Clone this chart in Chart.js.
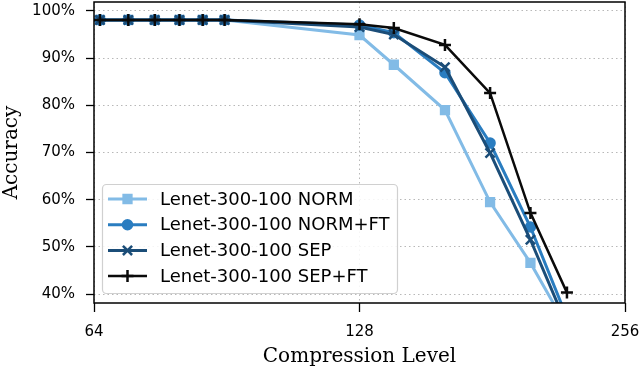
<html>
    <head>
        <script src="https://cdn.jsdelivr.net/npm/chart.js@4.4.1/dist/chart.umd.min.js"></script>
        <style>
            body { margin: 0; background: #fff; }
        </style>
    </head>

    <body>

        <div style="position: relative; width: 640px; height: 366px">
            <canvas id="myChart" width="640" height="366"></canvas>
        </div>

        <script>
            // compression levels (x) and accuracy (%) per method
            const levels = [65, 70, 75, 80, 85, 90, 128, 140, 160, 180, 200, 220];
            const norm   = [98.1, 98.1, 98.1, 98.1, 98.1, 98.1, 94.9, 88.6, 79.0, 59.5, 46.6, 33.0];
            const normFt = [98.1, 98.1, 98.1, 98.1, 98.1, 98.1, 97.0, 95.4, 86.9, 72.0, 54.2, 35.0];
            const sep    = [98.1, 98.1, 98.1, 98.1, 98.1, 98.1, 96.6, 95.0, 88.1, 69.9, 51.5, 33.3];
            const sepFt  = [98.1, 98.1, 98.1, 98.1, 98.1, 98.1, 97.2, 96.4, 92.8, 82.6, 57.2, 40.3];
            const labels = ['Lenet-300-100 NORM', 'Lenet-300-100 NORM+FT', 'Lenet-300-100 SEP', 'Lenet-300-100 SEP+FT'];
            const xTicks = [64, 128, 256];
            const yTicks = [40, 50, 60, 70, 80, 90, 100];

            const pts = arr => arr.map((v, i) => ({x: levels[i], y: v}));

            function ds(label, data, color, style, radius, order, bw) {
                return {
                    label: label, data: pts(data), borderColor: color, backgroundColor: color,
                    borderWidth: bw, pointStyle: style, pointRadius: radius,
                    pointBackgroundColor: color, pointBorderColor: color, pointBorderWidth: 2.5,
                    order: order, tension: 0
                };
            }

            // legend with line + marker samples, like matplotlib
            const mplLegend = {
                id: 'mplLegend',
                afterDatasetsDraw(chart) {
                    const ctx = chart.ctx;
                    ctx.save();
                    ctx.fillStyle = 'rgba(255,255,255,0.85)';
                    ctx.strokeStyle = '#d0d0d0';
                    ctx.lineWidth = 1.2;
                    ctx.beginPath();
                    ctx.roundRect(102.5, 184.5, 295, 109, 4);
                    ctx.fill();
                    ctx.stroke();
                    chart.data.datasets.forEach((d, i) => {
                        const y = 199 + i * 25.7;
                        ctx.strokeStyle = d.borderColor;
                        ctx.lineWidth = d.borderWidth;
                        ctx.beginPath();
                        ctx.moveTo(108, y);
                        ctx.lineTo(147, y);
                        ctx.stroke();
                        if (Chart.helpers && Chart.helpers.drawPoint) {
                            ctx.fillStyle = d.pointBackgroundColor;
                            ctx.strokeStyle = d.pointBorderColor;
                            ctx.lineWidth = d.pointBorderWidth;
                            Chart.helpers.drawPoint(ctx, {pointStyle: d.pointStyle, radius: d.pointRadius, borderWidth: d.pointBorderWidth, rotation: 0}, 127.5, y);
                        }
                        ctx.fillStyle = '#000';
                        ctx.font = '18px "DejaVu Sans"';
                        ctx.textBaseline = 'middle';
                        ctx.fillText(d.label, 160, y + 1);
                    });
                    ctx.restore();
                },
                afterDraw(chart) {
                    const a = chart.chartArea;
                    const ctx = chart.ctx;
                    ctx.save();
                    ctx.strokeStyle = '#000';
                    ctx.lineWidth = 1.5;
                    ctx.strokeRect(a.left, a.top, a.right - a.left, a.bottom - a.top);
                    ctx.restore();
                }
            };

            const ctx = document.getElementById('myChart').getContext('2d');
            const myChart = new Chart(ctx, {
                type: 'line',
                data: {
                    datasets: [
                        ds(labels[0], norm, '#82bbe6', 'rect', 5.5, 4, 3),
                        ds(labels[1], normFt, '#2a7dc0', 'circle', 4.5, 3, 3),
                        ds(labels[2], sep, '#1b4d78', 'crossRot', 6.5, 2, 3),
                        ds(labels[3], sepFt, '#0a0a0a', 'cross', 6, 1, 2.5)
                    ]
                },
                options: {
                    responsive: false,
                    animation: false,
                    layout: { autoPadding: false, padding: { top: 2, right: 15, left: 0, bottom: 0 } },
                    plugins: { legend: { display: false }, tooltip: { enabled: false } },
                    scales: {
                        x: {
                            type: 'logarithmic', min: 64, max: 256,
                            afterBuildTicks: s => { s.ticks = xTicks.map(v => ({value: v})); },
                            afterFit: s => { s.height = 63; s.paddingLeft = 0; s.paddingRight = 0; },
                            ticks: {
                                autoSkip: false, maxRotation: 0, padding: 11,
                                color: '#000', font: { family: 'DejaVu Sans', size: 15 },
                                callback: v => String(v)
                            },
                            grid: { color: '#b8b8b8', lineWidth: 1, tickColor: '#000', tickLength: 9, tickWidth: 1.3, tickBorderDash: [] },
                            border: { display: false, dash: [1.5, 3] },
                            title: {
                                display: true, text: 'Compression Level', color: '#000',
                                font: { family: 'DejaVu Serif', size: 20, lineHeight: 1.2 },
                                padding: { top: 0, bottom: -3 }
                            }
                        },
                        y: {
                            min: 38.1, max: 101.9,
                            afterBuildTicks: s => { s.ticks = yTicks.map(v => ({value: v})); },
                            afterFit: s => { s.width = 94; s.paddingTop = 0; s.paddingBottom = 0; },
                            ticks: {
                                padding: 11, color: '#000', font: { family: 'DejaVu Sans', size: 15 },
                                callback: v => v + '%'
                            },
                            grid: { color: '#b8b8b8', lineWidth: 1, tickColor: '#000', tickLength: 8, tickWidth: 1.3, tickBorderDash: [] },
                            border: { display: false, dash: [1.5, 3] },
                            title: {
                                display: true, text: 'Accuracy', color: '#000',
                                font: { family: 'DejaVu Serif', size: 20, lineHeight: 1.2 },
                                padding: { top: 0, bottom: 0 }
                            }
                        }
                    }
                },
                plugins: [mplLegend]
            });
        </script>
    </body>
</html>
